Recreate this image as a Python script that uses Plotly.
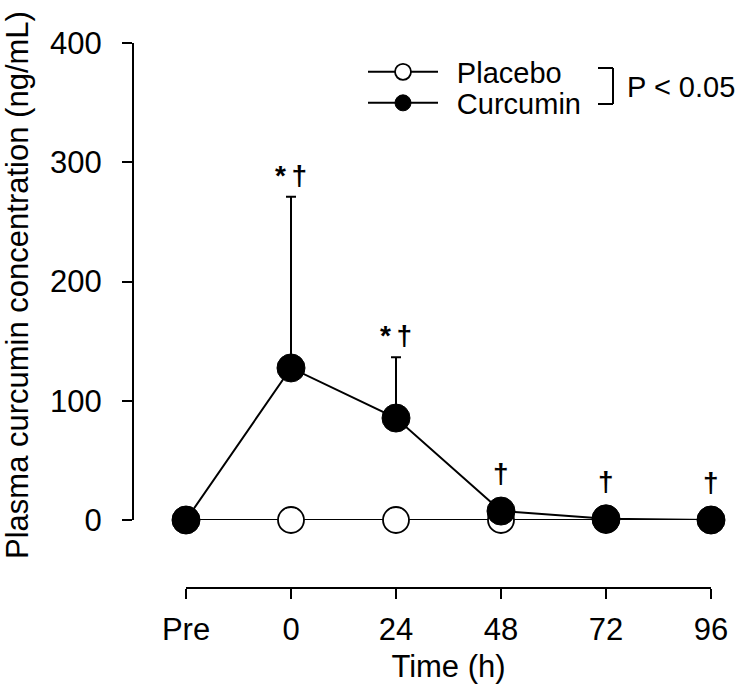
import plotly.graph_objects as go

# ---- data ----
time_labels = ["Pre", "0", "24", "48", "72", "96"]
placebo_mean = [0, 0, 0, 0, 0, 0]
curcumin_mean = [0, 127.5, 85.5, 7.5, 1, 0]
curcumin_sd = [0, 143.5, 51, 0, 0, 0]
sig_marks = ["", "*\u2009\u2020", "*\u2009\u2020", "\u2020", "\u2020", "\u2020"]

FONT = "Liberation Sans, Arial, Helvetica, sans-serif"
x_idx = list(range(len(time_labels)))

# plot-area geometry (pixels)
L, R, T, B = 133, 716, 43, 588
W, H = R - L, B - T


def px(xp):
    return (xp - L) / W


def py(yp):
    return (B - yp) / H


fig = go.Figure()
fig.add_trace(go.Scatter(
    x=x_idx, y=placebo_mean, name="\u00a0\u2009Placebo", mode="lines+markers",
    line=dict(color="black", width=2),
    marker=dict(symbol="circle", size=26, color="white", line=dict(color="black", width=1.8)),
    cliponaxis=False, legend="legend",
))
fig.add_trace(go.Scatter(
    x=x_idx, y=curcumin_mean, name="\u00a0\u2009Curcumin", mode="lines+markers",
    line=dict(color="black", width=2),
    marker=dict(symbol="circle", size=28, color="black", line=dict(color="black", width=1)),
    error_y=dict(type="data", symmetric=False, array=curcumin_sd,
                 arrayminus=[0] * len(curcumin_sd), color="black", thickness=2, width=5),
    cliponaxis=False, legend="legend2",
))

annotations = []
for i, m in enumerate(sig_marks):
    if not m:
        continue
    top = curcumin_mean[i] + curcumin_sd[i]
    annotations.append(dict(
        x=i, y=top, xref="x", yref="y", text="<b>" + m + "</b>", showarrow=False,
        yanchor="bottom", yshift=4 if curcumin_sd[i] > 0 else 20,
        font=dict(family=FONT, size=28, color="black"),
    ))

annotations.append(dict(
    x=px(625), y=py(87), xref="paper", yref="paper", text="P < 0.05", showarrow=False,
    xanchor="left", yanchor="middle",
    font=dict(family=FONT, size=29, color="black"),
))

# y-axis title as rotated annotation
annotations.append(dict(
    x=px(17), y=py(285), xref="paper", yref="paper",
    text="Plasma curcumin concentration (ng/mL)", showarrow=False, textangle=-90,
    xanchor="center", yanchor="middle", borderpad=0,
    font=dict(family=FONT, size=31, color="black"),
))

leg_common = dict(xanchor="left", yanchor="middle", bgcolor="rgba(0,0,0,0)",
                  font=dict(family=FONT, size=29, color="black"), itemwidth=70,
                  borderwidth=0)

fig.update_layout(
    width=736, height=699,
    margin=dict(l=L, r=736 - R, t=T, b=699 - B, autoexpand=False),
    paper_bgcolor="white", plot_bgcolor="white",
    font=dict(family=FONT, size=31, color="black"),
    showlegend=True,
    legend=dict(x=px(363), y=py(72), **leg_common),
    legend2=dict(x=px(363), y=py(103), **leg_common),
    xaxis=dict(
        domain=[px(186), px(711)],
        range=[0, 5], tickmode="array", tickvals=x_idx, ticktext=time_labels,
        showgrid=False, zeroline=False, showline=True, linecolor="black", linewidth=2,
        ticks="outside", ticklen=10, tickwidth=2, tickcolor="black",
        anchor="free", position=0, automargin=False, ticklabelstandoff=4,
        tickfont=dict(family=FONT, size=31),
        title=dict(text="Time (h)", font=dict(family=FONT, size=31), standoff=8),
    ),
    yaxis=dict(
        domain=[py(520), 1],
        range=[0, 400], tickvals=[0, 100, 200, 300, 400],
        showgrid=False, zeroline=False, showline=True, linecolor="black", linewidth=2,
        ticks="outside", ticklen=10, tickwidth=2, tickcolor="black",
        anchor="free", position=0, automargin=False, ticklabelstandoff=14,
        tickfont=dict(family=FONT, size=31),
    ),
    annotations=annotations,
)

# bracket linking the two legend entries
bx, bx0 = px(613), px(598)
by0, by1 = py(68), py(104)
for (xa, ya, xb, yb) in [(bx0, by0, bx, by0), (bx, by0, bx, by1), (bx, by1, bx0, by1)]:
    fig.add_shape(type="line", xref="paper", yref="paper", x0=xa, y0=ya, x1=xb, y1=yb,
                  line=dict(color="black", width=2))

fig.write_html("out.html", config={"displayModeBar": False},
               post_script="document.body.style.margin='0';")
